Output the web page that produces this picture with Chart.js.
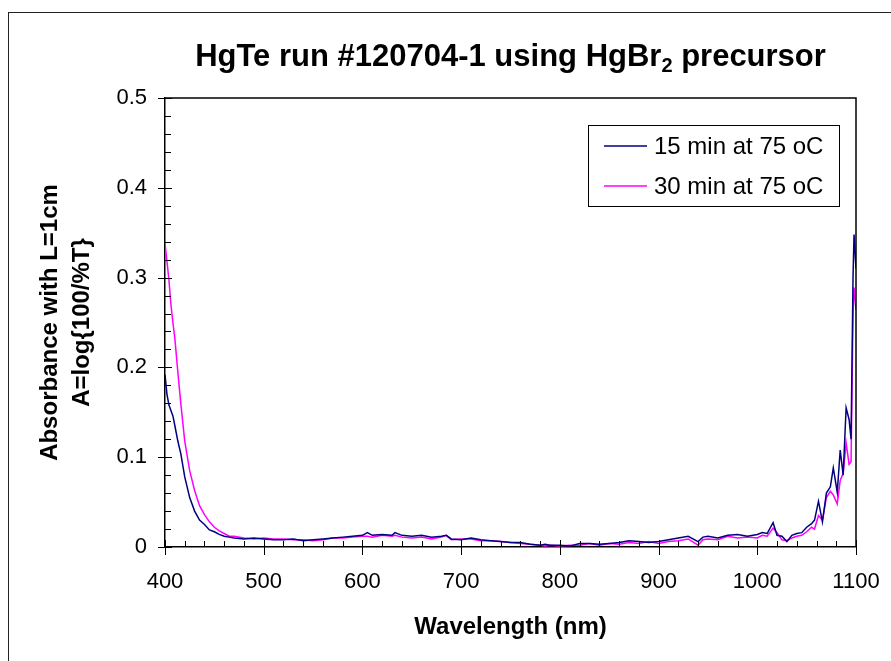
<!DOCTYPE html>
<html>
<head>
<meta charset="utf-8">
<script src="https://cdn.jsdelivr.net/npm/chart.js@4.4.1/dist/chart.umd.min.js"></script>
<style>
html, body { margin: 0; padding: 0; background: #fff; }
#wrap { position: relative; width: 891px; height: 661px; }
</style>
</head>
<body>
<div id="wrap"><canvas id="chart" width="891" height="661"></canvas></div>
<script>
// wavelength (nm) shared by both runs
const wavelength = [400, 402, 404, 406, 408, 410, 413, 416, 420, 425, 430, 435, 440, 445, 450, 455, 460, 465, 470, 480,
  490, 500, 510, 520, 530, 540, 550, 560, 570, 580, 590, 600, 605, 610, 620, 630, 633, 640, 650, 660,
  670, 680, 685, 690, 700, 710, 720, 730, 740, 750, 760, 770, 780, 785, 790, 800, 810, 820, 830, 840,
  850, 860, 870, 880, 890, 900, 910, 920, 930, 940, 945, 950, 960, 970, 980, 990, 1000, 1005, 1010, 1016,
  1020, 1025, 1030, 1035, 1040, 1045, 1050, 1055, 1058, 1062, 1066, 1070, 1074, 1077, 1081, 1084, 1087, 1090, 1093, 1095,
  1097, 1098, 1100];

const abs15 = [0.192, 0.170, 0.158, 0.152, 0.146, 0.135, 0.118, 0.104, 0.078, 0.055, 0.040, 0.030, 0.025, 0.019, 0.017, 0.014, 0.012, 0.011, 0.010, 0.009,
  0.010, 0.009, 0.008, 0.008, 0.009, 0.007, 0.008, 0.009, 0.010, 0.011, 0.012, 0.013, 0.016, 0.013, 0.014, 0.013, 0.016, 0.013, 0.012, 0.013,
  0.011, 0.012, 0.013, 0.009, 0.008, 0.010, 0.008, 0.007, 0.006, 0.005, 0.005, 0.003, 0.002, 0.003, 0.002, 0.002, 0.001, 0.004, 0.004, 0.003,
  0.004, 0.005, 0.007, 0.006, 0.005, 0.006, 0.008, 0.010, 0.012, 0.006, 0.011, 0.012, 0.010, 0.013, 0.014, 0.012, 0.014, 0.016, 0.015, 0.027,
  0.013, 0.012, 0.006, 0.013, 0.015, 0.016, 0.022, 0.026, 0.030, 0.051, 0.028, 0.060, 0.067, 0.088, 0.061, 0.108, 0.080, 0.155, 0.142, 0.120,
  0.300, 0.348, 0.310];

const abs30 = [0.338, 0.318, 0.297, 0.270, 0.250, 0.232, 0.195, 0.160, 0.118, 0.085, 0.063, 0.046, 0.036, 0.028, 0.022, 0.018, 0.015, 0.012, 0.012, 0.010,
  0.009, 0.010, 0.009, 0.009, 0.008, 0.008, 0.007, 0.008, 0.010, 0.010, 0.011, 0.012, 0.012, 0.011, 0.013, 0.012, 0.013, 0.011, 0.010, 0.011,
  0.009, 0.011, 0.013, 0.008, 0.009, 0.009, 0.007, 0.007, 0.006, 0.005, 0.004, 0.003, 0.002, 0.001, 0.002, 0.001, 0.002, 0.002, 0.004, 0.002,
  0.004, 0.003, 0.005, 0.004, 0.006, 0.004, 0.006, 0.007, 0.009, 0.002, 0.008, 0.009, 0.008, 0.012, 0.010, 0.011, 0.010, 0.013, 0.012, 0.021,
  0.016, 0.008, 0.007, 0.010, 0.012, 0.013, 0.017, 0.022, 0.020, 0.035, 0.030, 0.055, 0.062, 0.058, 0.048, 0.074, 0.082, 0.116, 0.092, 0.095,
  0.258, 0.289, 0.264];

const seriesLabels = ['15 min at 75 oC', '30 min at 75 oC'];
const seriesColors = ['#000080', '#ff00ff'];

const xTicks = [400, 500, 600, 700, 800, 900, 1000, 1100];
const xTickLabels = ['400', '500', '600', '700', '800', '900', '1000', '1100'];
const yTicks = [0, 0.1, 0.2, 0.3, 0.4, 0.5];
const yTickLabels = ['0', '0.1', '0.2', '0.3', '0.4', '0.5'];

const titleParts = ['HgTe run #120704-1 using HgBr', '2', ' precursor'];
const xTitle = 'Wavelength (nm)';
const yTitle = ['Absorbance with L=1cm', 'A=log{100/%T}'];

const FONT = "'Liberation Sans', Arial, sans-serif";

function toPoints(values) {
    return values.map((v, i) => ({ x: wavelength[i], y: v }));
}

function labelFor(ticks, labels, v) {
    return labels[ticks.findIndex(t => Math.abs(t - v) < 1e-9)];
}

// outer border, plot frame, tick marks, legend and title
const decor = {
    id: 'decor',
    beforeDraw(chart) {
        const ctx = chart.ctx;
        ctx.save();
        ctx.fillStyle = '#fff';
        ctx.fillRect(0, 0, chart.width, chart.height);
        ctx.strokeStyle = '#222';
        ctx.lineWidth = 1;
        ctx.strokeRect(8.5, 12.5, 900, 700);
        ctx.restore();
    },
    afterDraw(chart) {
        const ctx = chart.ctx;
        const { left, right, top, bottom } = chart.chartArea;
        const xs = chart.scales.x;
        const ys = chart.scales.y;
        ctx.save();
        ctx.strokeStyle = '#000';
        ctx.lineWidth = 1.5;

        // top and right of the frame
        ctx.beginPath();
        ctx.moveTo(left, top);
        ctx.lineTo(right, top);
        ctx.lineTo(right, bottom);
        ctx.stroke();

        // y ticks: major cross the axis, minor inside
        ctx.lineWidth = 1;
        ctx.beginPath();
        for (let v = 0; v <= 0.5001; v += 0.02) {
            const y = Math.round(ys.getPixelForValue(v)) + 0.5;
            const major = Math.abs(v * 10 - Math.round(v * 10)) < 1e-6;
            ctx.moveTo(left - (major ? 7 : 0), y);
            ctx.lineTo(left + (major ? 7 : 6), y);
        }
        // x ticks
        for (let w = 400; w <= 1100; w += 20) {
            const x = Math.round(xs.getPixelForValue(w)) + 0.5;
            const major = w % 100 === 0;
            ctx.moveTo(x, bottom + (major ? 8 : 0));
            ctx.lineTo(x, bottom - (major ? 7 : 6));
        }
        ctx.stroke();

        // legend
        const lx = 588.5, ly = 125.5, lw = 251, lh = 81;
        ctx.fillStyle = '#fff';
        ctx.fillRect(lx, ly, lw, lh);
        ctx.strokeStyle = '#000';
        ctx.lineWidth = 1;
        ctx.strokeRect(lx, ly, lw, lh);
        ctx.font = '24px ' + FONT;
        ctx.textBaseline = 'middle';
        ctx.textAlign = 'left';
        chart.data.datasets.forEach((ds, i) => {
            const y = 146 + i * 40;
            ctx.strokeStyle = ds.borderColor;
            ctx.lineWidth = 1.5;
            ctx.beginPath();
            ctx.moveTo(604, y);
            ctx.lineTo(647, y);
            ctx.stroke();
            ctx.fillStyle = '#000';
            ctx.fillText(ds.label, 654, y + 1);
        });

        // title with subscript
        const mainFont = 'bold 31px ' + FONT;
        const subFont = 'bold 20px ' + FONT;
        ctx.font = mainFont;
        const w0 = ctx.measureText(titleParts[0]).width;
        const w2 = ctx.measureText(titleParts[2]).width;
        ctx.font = subFont;
        const w1 = ctx.measureText(titleParts[1]).width;
        let tx = (left + right) / 2 - (w0 + w1 + w2) / 2;
        const ty = 66;
        ctx.fillStyle = '#000';
        ctx.textBaseline = 'alphabetic';
        ctx.font = mainFont;
        ctx.fillText(titleParts[0], tx, ty);
        tx += w0;
        ctx.font = subFont;
        ctx.fillText(titleParts[1], tx, ty + 6);
        tx += w1;
        ctx.font = mainFont;
        ctx.fillText(titleParts[2], tx, ty);
        ctx.restore();
    }
};

new Chart(document.getElementById('chart'), {
    type: 'line',
    data: {
        datasets: [
            { label: seriesLabels[0], data: toPoints(abs15), borderColor: seriesColors[0], borderWidth: 1.5, pointRadius: 0, tension: 0 },
            { label: seriesLabels[1], data: toPoints(abs30), borderColor: seriesColors[1], borderWidth: 1.5, pointRadius: 0, tension: 0 }
        ]
    },
    options: {
        responsive: false,
        animation: false,
        devicePixelRatio: 1,
        layout: { padding: { top: 98, right: 35, left: 0, bottom: 0 } },
        plugins: {
            legend: { display: false },
            title: { display: false },
            tooltip: { enabled: false }
        },
        scales: {
            x: {
                type: 'linear',
                min: 400,
                max: 1100,
                afterBuildTicks: (scale) => { scale.ticks = xTicks.map(v => ({ value: v })); },
                afterFit: (scale) => { scale.height = 114; scale.paddingLeft = 0; scale.paddingRight = 0; },
                grid: { display: false, drawTicks: false },
                border: { display: true, color: '#000', width: 1.5 },
                ticks: {
                    color: '#000',
                    font: { family: FONT, size: 22 },
                    padding: 22,
                    maxRotation: 0,
                    callback: (v) => labelFor(xTicks, xTickLabels, v)
                },
                title: { display: true, text: xTitle, color: '#000', font: { family: FONT, size: 24, weight: 'bold' }, padding: { top: 0, bottom: 19 } }
            },
            y: {
                min: 0,
                max: 0.5,
                afterBuildTicks: (scale) => { scale.ticks = yTicks.map(v => ({ value: v })); },
                afterFit: (scale) => { scale.width = 165; scale.paddingTop = 0; scale.paddingBottom = 0; },
                grid: { display: false, drawTicks: false },
                border: { display: true, color: '#000', width: 1.5 },
                ticks: {
                    color: '#000',
                    font: { family: FONT, size: 22 },
                    padding: 18,
                    callback: (v) => labelFor(yTicks, yTickLabels, v)
                },
                title: { display: true, text: yTitle, color: '#000', font: { family: FONT, size: 24, weight: 'bold', lineHeight: 1.33 }, padding: { top: 34, bottom: 0 } }
            }
        }
    },
    plugins: [decor]
});
</script>
</body>
</html>
